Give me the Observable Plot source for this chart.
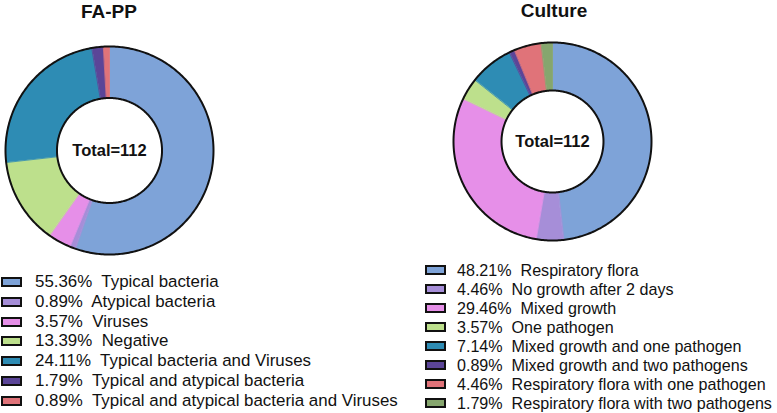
<!DOCTYPE html>
<html>
<head>
<meta charset="utf-8">
<script src="https://cdn.jsdelivr.net/npm/d3@7"></script>
<script src="https://cdn.jsdelivr.net/npm/@observablehq/plot@0.6"></script>
<style>
  html, body { margin: 0; padding: 0; background: #fff; }
  #root { position: relative; width: 777px; height: 413px; overflow: hidden;
          font-family: "Liberation Sans", Arial, sans-serif; color: #111; }
  .title { position: absolute; font-weight: bold; font-size: 19px; line-height: 19px;
           text-align: center; width: 200px; }
  .donut { position: absolute; }
  .legend { position: absolute; }
  .legend .row { display: flex; align-items: center; white-space: pre; }
  .legend .sw { box-sizing: border-box; border: 2px solid #111; flex: none; }
</style>
</head>
<body>
<div id="root"></div>
<script>
// ---- data ----
const fappTitle = "FA-PP";
const fappCats = ["Typical bacteria", "Atypical bacteria", "Viruses", "Negative",
  "Typical bacteria and Viruses", "Typical and atypical bacteria",
  "Typical and atypical bacteria and Viruses"];
const fappVals = [55.36, 0.89, 3.57, 13.39, 24.11, 1.79, 0.89];
const fappColors = ["#7ea3d8", "#a68ed8", "#e68fe8", "#bde08c", "#2e8cb4", "#5b4598", "#e07379"];

const cultTitle = "Culture";
const cultCats = ["Respiratory flora", "No growth after 2 days", "Mixed growth", "One pathogen",
  "Mixed growth and one pathogen", "Mixed growth and two pathogens",
  "Respiratory flora with one pathogen", "Respiratory flora with two pathogens"];
const cultVals = [48.21, 4.46, 29.46, 3.57, 7.14, 0.89, 4.46, 1.79];
const cultColors = ["#7ea3d8", "#a68ed8", "#e68fe8", "#bde08c", "#2e8cb4", "#5b4598", "#e07379", "#86a66e"];

const totalLabel = "Total=112";

// ---- helpers ----
function slicePolys(cats, vals, inner) {
  const arcs = d3.pie().sort(null).value(d => d.v)(cats.map((c, i) => ({c, v: vals[i]})));
  const pts = [];
  for (const a of arcs) {
    const n = Math.max(2, Math.ceil((a.endAngle - a.startAngle) / 0.01));
    for (let k = 0; k <= n; k++) {
      const t = a.startAngle + (a.endAngle - a.startAngle) * k / n;
      pts.push({cat: a.data.c, x: Math.sin(t), y: Math.cos(t)});
    }
    for (let k = n; k >= 0; k--) {
      const t = a.startAngle + (a.endAngle - a.startAngle) * k / n;
      pts.push({cat: a.data.c, x: inner * Math.sin(t), y: inner * Math.cos(t)});
    }
  }
  return pts;
}
function rings(inner) {
  const pts = [];
  for (const r of [1, inner]) {
    for (let k = 0; k < 400; k++) {
      const t = 2 * Math.PI * k / 400;
      pts.push({ring: r, x: r * Math.sin(t), y: r * Math.cos(t)});
    }
  }
  return pts;
}
function donut(cats, vals, colors, inner, size, radiusPx) {
  const D = size / 2 / radiusPx;
  return Plot.plot({
    width: size, height: size, margin: 0,
    x: {domain: [-D, D], axis: null},
    y: {domain: [-D, D], axis: null},
    color: {domain: cats, range: colors},
    marks: [
      Plot.line(slicePolys(cats, vals, inner), {x: "x", y: "y", z: "cat", fill: "cat", stroke: "cat",
        strokeWidth: 0.8, curve: "linear-closed"}),
      Plot.line(rings(inner), {x: "x", y: "y", z: "ring", stroke: "#111", strokeWidth: 2,
        fill: "none", curve: "linear-closed"}),
      Plot.text([totalLabel], {frameAnchor: "middle", fontSize: 16.5, fontWeight: "bold",
        fill: "#111", fontFamily: "Liberation Sans, Arial, sans-serif"})
    ]
  });
}
function legend(cats, vals, colors, opts) {
  const div = document.createElement("div");
  div.className = "legend";
  div.style.left = opts.left + "px";
  div.style.top = opts.top + "px";
  div.style.fontSize = opts.fontSize + "px";
  cats.forEach((c, i) => {
    const row = document.createElement("div");
    row.className = "row";
    row.style.height = opts.rowH + "px";
    row.style.lineHeight = opts.rowH + "px";
    const sw = document.createElement("div");
    sw.className = "sw";
    sw.style.width = opts.swW + "px";
    sw.style.height = opts.swH + "px";
    sw.style.background = colors[i];
    sw.style.marginRight = opts.gap + "px";
    const tx = document.createElement("span");
    tx.textContent = vals[i].toFixed(2) + "%  " + c;
    row.appendChild(sw);
    row.appendChild(tx);
    div.appendChild(row);
  });
  return div;
}

// ---- layout ----
const root = document.getElementById("root");
function title(text, cx, top) {
  const d = document.createElement("div");
  d.className = "title";
  d.textContent = text;
  d.style.left = (cx - 100) + "px";
  d.style.top = top + "px";
  root.appendChild(d);
}
title(fappTitle, 109, 2);
title(cultTitle, 554, 1);

const S = 220;
const d1 = donut(fappCats, fappVals, fappColors, 0.505, S, 104);
d1.classList.add("donut");
d1.style.left = (109 - S / 2) + "px";
d1.style.top = (150 - S / 2) + "px";
root.appendChild(d1);

const d2 = donut(cultCats, cultVals, cultColors, 0.515, S, 99);
d2.classList.add("donut");
d2.style.left = (552 - S / 2) + "px";
d2.style.top = (141 - S / 2) + "px";
root.appendChild(d2);

root.appendChild(legend(fappCats, fappVals, fappColors,
  {left: 1, top: 272, fontSize: 16.9, rowH: 19.83, swW: 21, swH: 10, gap: 13}));
root.appendChild(legend(cultCats, cultVals, cultColors,
  {left: 425, top: 261, fontSize: 16.1, rowH: 18.94, swW: 21, swH: 10, gap: 11}));
</script>
</body>
</html>
